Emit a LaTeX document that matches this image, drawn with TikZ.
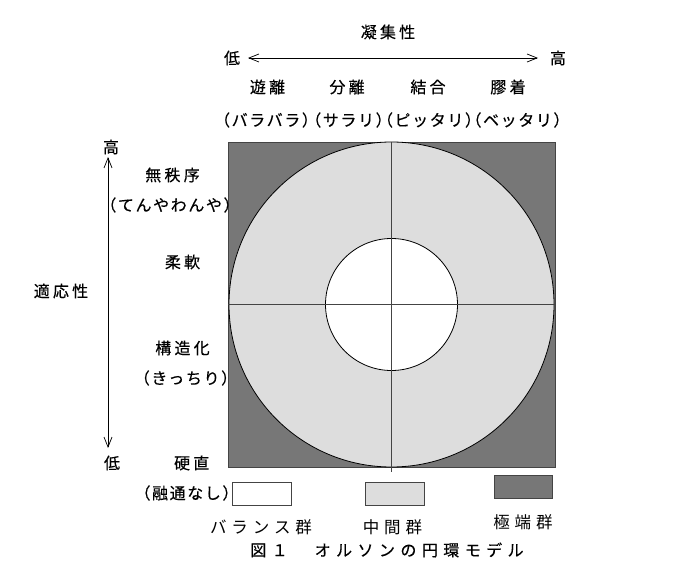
\documentclass[tikz,border=0pt]{standalone}
\usepackage{fontspec}
\usetikzlibrary{arrows.meta}
\newfontfamily\jp[LetterSpace=10,FakeBold=0.4]{Noto Sans CJK JP}
\newfontfamily\jpsp[LetterSpace=20,FakeBold=0.4]{Noto Sans CJK JP}
\newfontfamily\jpkey[LetterSpace=30]{Noto Sans CJK JP}
\newfontfamily\jpcap[LetterSpace=34,FakeBold=0.3]{Noto Sans CJK JP}
\definecolor{darkg}{HTML}{777777}
\definecolor{lightg}{HTML}{DDDDDD}
\definecolor{edge}{HTML}{444444}
\begin{document}
\begin{tikzpicture}[x=1pt,y=-1pt,
  lbl/.style={inner sep=0pt,font=\fontsize{16}{18}\selectfont\jp},
  lblsp/.style={inner sep=0pt,font=\fontsize{16}{18}\selectfont\jpsp},
  keylbl/.style={inner sep=0pt,font=\fontsize{16.5}{18}\selectfont\jpkey},
  caplbl/.style={inner sep=0pt,font=\fontsize{16}{18}\selectfont\jpcap},
  axis/.style={line width=0.7pt,{Straight Barb[length=10pt,width=8pt]}-{Straight Barb[length=10pt,width=8pt]}},
  key/.style={draw=edge,line width=0.8pt}]
\useasboundingbox (0,0) rectangle (686,583);
% square and circles
\draw[fill=darkg,draw=edge,line width=0.8pt] (228,142) rectangle (555,467);
\draw[fill=lightg,draw=black,line width=0.8pt] (391.5,304.5) circle (162.5);
\draw[fill=white,draw=black,line width=0.8pt] (391.5,304.5) circle (66);
\coordinate (vt) at (391.5,142);
\coordinate (vb) at (391.5,472);
\coordinate (hl) at (228,304.5);
\coordinate (hr) at (555,304.5);
\draw[edge,line width=0.8pt] (vt) -- (vb);
\draw[edge,line width=0.8pt] (hl) -- (hr);
% top axis
\node[lblsp] (coh) at (388,32) {凝集性};
\node[lblsp] (lo1) at (232,58) {低};
\node[lblsp] (hi1) at (558,58) {高};
\coordinate (al) at (248,58);
\coordinate (ar) at (538,58);
\draw[axis] (al) -- (ar);
\node[lblsp] (c1) at (267.5,87) {遊離};
\node[lblsp] (c2) at (347,87) {分離};
\node[lblsp] (c3) at (428,87) {結合};
\node[lblsp] (c4) at (508,87) {膠着};
\node[lbl] (d1) at (266,120) {（バラバラ）};
\node[lbl] (d2) at (348.5,120) {（サラリ）};
\node[lbl] (d3) at (429,120) {（ピッタリ）};
\node[lbl] (d4) at (517.5,120) {（ベッタリ）};
% left axis
\node[lblsp] (hi2) at (111,147) {高};
\node[lblsp] (lo2) at (112,463) {低};
\coordinate (at) at (108,157);
\coordinate (ab) at (108,448);
\draw[axis] (at) -- (ab);
\node[lblsp] (adp) at (61,291) {適応性};
\node[lblsp] (e1) at (172.5,175) {無秩序};
\node[lbl] (e1b) at (170,205) {（てんやわんや）};
\node[lblsp] (e2) at (182.5,262) {柔軟};
\node[lblsp] (e3) at (182.5,348) {構造化};
\node[lbl] (e3b) at (185.5,378) {（きっちり）};
\node[lblsp] (e4) at (191.7,463) {硬直};
\node[lbl] (e4b) at (186.5,493) {（融通なし）};
% legend
\draw[key,fill=white] (232,482) rectangle (291,505);
\draw[key,fill=lightg] (365,482) rectangle (424,505);
\draw[key,fill=darkg] (494,475) rectangle (552,498);
\node[keylbl] (k1) at (261,527) {バランス群};
\node[keylbl] (k2) at (392.5,527) {中間群};
\node[keylbl] (k3) at (523,522) {極端群};
\node[caplbl] (cap) at (387,550) {図１　オルソンの円環モデル};
\end{tikzpicture}
\end{document}
